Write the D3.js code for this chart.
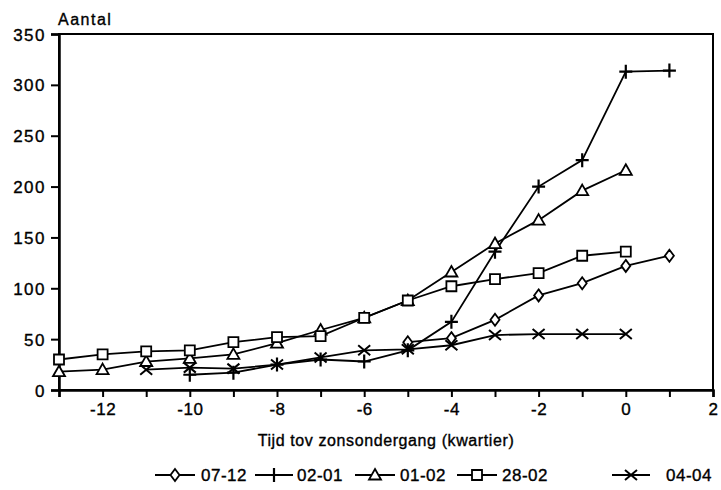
<!DOCTYPE html>
<html><head><meta charset="utf-8">
<script src="https://cdn.jsdelivr.net/npm/d3@7"></script>
<style>
body{margin:0;background:#fff;}
text{font-family:"Liberation Sans",Arial,sans-serif;fill:#000;stroke:#000;stroke-width:0.35px;}
</style></head>
<body><svg id="c" width="721" height="490"></svg>
<script>
const xTicks = [-13,-12,-11,-10,-9,-8,-7,-6,-5,-4,-3,-2,-1,0,1,2];
const xLabels = [-12,-10,-8,-6,-4,-2,0,2];
const yTicks = [0,50,100,150,200,250,300,350];
const seriesNames = ["07-12","02-01","01-02","28-02","04-04"];
const seriesSymbols = ["diamond","plus","triangle","square","cross"];
const xDiamond = [-5,-4,-3,-2,-1,0,1];
const yDiamond = [47,51,69,93,105,122,132];
const xPlus = [-10,-9,-8,-7,-6,-5,-4,-3,-2,-1,0,1];
const yPlus = [15,17,25,30,28,39,67,136,200,226,313,314];
const xTriangle = [-13,-12,-11,-10,-9,-8,-7,-6,-5,-4,-3,-2,-1,0];
const yTriangle = [18,20,28,31,35,46,59,71,88,116,144,167,196,216];
const xSquare = [-13,-12,-11,-10,-9,-8,-7,-6,-5,-4,-3,-2,-1,0];
const ySquare = [30,35,38,39,47,52,53,71,88,102,109,115,132,136];
const xCross = [-11,-10,-9,-8,-7,-6,-5,-4,-3,-2,-1,0];
const yCross = [20,22,21,25,32,39,40,44,54,55,55,55];

const series = [
  {xs:xDiamond, ys:yDiamond},
  {xs:xPlus, ys:yPlus},
  {xs:xTriangle, ys:yTriangle},
  {xs:xSquare, ys:ySquare},
  {xs:xCross, ys:yCross}
];

const svg = d3.select("#c");
const L=59, R=713, T=34, B=390;
const x = d3.scaleLinear().domain([-13,2]).range([L,R]);
const y = d3.scaleLinear().domain([0,350]).range([B,T]);

svg.append("rect").attr("x",L).attr("y",T).attr("width",R-L).attr("height",B-T)
  .attr("fill","none").attr("stroke","#000").attr("stroke-width",2);

const xa = svg.append("g").attr("transform",`translate(0,${B})`)
  .call(d3.axisBottom(x).tickValues(xTicks).tickSize(7).tickPadding(6)
    .tickFormat(d=>xLabels.includes(d)? (d<0?"-"+(-d):String(d)) : ""));
const ya = svg.append("g").attr("transform",`translate(${L},0)`)
  .call(d3.axisLeft(y).tickValues(yTicks).tickSize(8).tickPadding(5));
[xa,ya].forEach(a=>{
  a.select(".domain").attr("stroke-width",2.5);
  a.selectAll(".tick line").attr("stroke-width",2);
  a.selectAll("text").attr("font-size",17).attr("font-family","Liberation Sans, Arial, sans-serif").attr("fill","#000");
});
ya.selectAll("text").attr("dy","0.36em").attr("letter-spacing","1.5px");
xa.selectAll("text").attr("letter-spacing","0.5px");

svg.append("text").attr("x",58).attr("y",25).attr("font-size",16).attr("letter-spacing","1.5px").text("Aantal");
svg.append("text").attr("x",(L+R)/2).attr("y",446).attr("text-anchor","middle")
  .attr("font-size",16).attr("letter-spacing","0.6px").text("Tijd tov zonsondergang (kwartier)");

function drawSym(g, type, cx, cy){
  const s = g.append("path").attr("fill","#fff").attr("stroke","#000").attr("stroke-width",1.8);
  let d;
  if(type==="diamond") d=`M${cx},${cy-6}L${cx+4.5},${cy}L${cx},${cy+6}L${cx-4.5},${cy}Z`;
  else if(type==="triangle") d=`M${cx},${cy-6}L${cx+6},${cy+4.5}L${cx-6},${cy+4.5}Z`;
  else if(type==="square") d=`M${cx-5},${cy-5}h10v10h-10Z`;
  else if(type==="plus") {d=`M${cx-6.5},${cy}h13M${cx},${cy-7}v14`; s.attr("stroke-width",2.2);}
  else if(type==="cross") {d=`M${cx-6},${cy-5}L${cx+6},${cy+5}M${cx-6},${cy+5}L${cx+6},${cy-5}`; s.attr("stroke-width",2);}
  s.attr("d",d);
}

const line = d3.line().x(d=>x(d[0])).y(d=>y(d[1]));
series.forEach((s,i)=>{
  const pts = s.xs.map((v,j)=>[v,s.ys[j]]);
  svg.append("path").datum(pts).attr("d",line).attr("fill","none").attr("stroke","#000").attr("stroke-width",1.8);
});
series.forEach((s,i)=>{
  const g = svg.append("g");
  s.xs.forEach((v,j)=>drawSym(g, seriesSymbols[i], x(v), y(s.ys[j])));
});

const legX = [155,255,355,457,612];
const legW = [40,38,40,40,38];
const legTX = [201,297,400,502,666];
seriesNames.forEach((n,i)=>{
  const g = svg.append("g");
  const cy = 475;
  g.append("line").attr("x1",legX[i]).attr("x2",legX[i]+legW[i]).attr("y1",cy).attr("y2",cy)
    .attr("stroke","#000").attr("stroke-width",1.8);
  drawSym(g, seriesSymbols[i], legX[i]+legW[i]/2, cy);
  g.append("text").attr("x",legTX[i]).attr("y",cy+6).attr("font-size",17).attr("letter-spacing","0.5px").text(n);
});
</script></body></html>
